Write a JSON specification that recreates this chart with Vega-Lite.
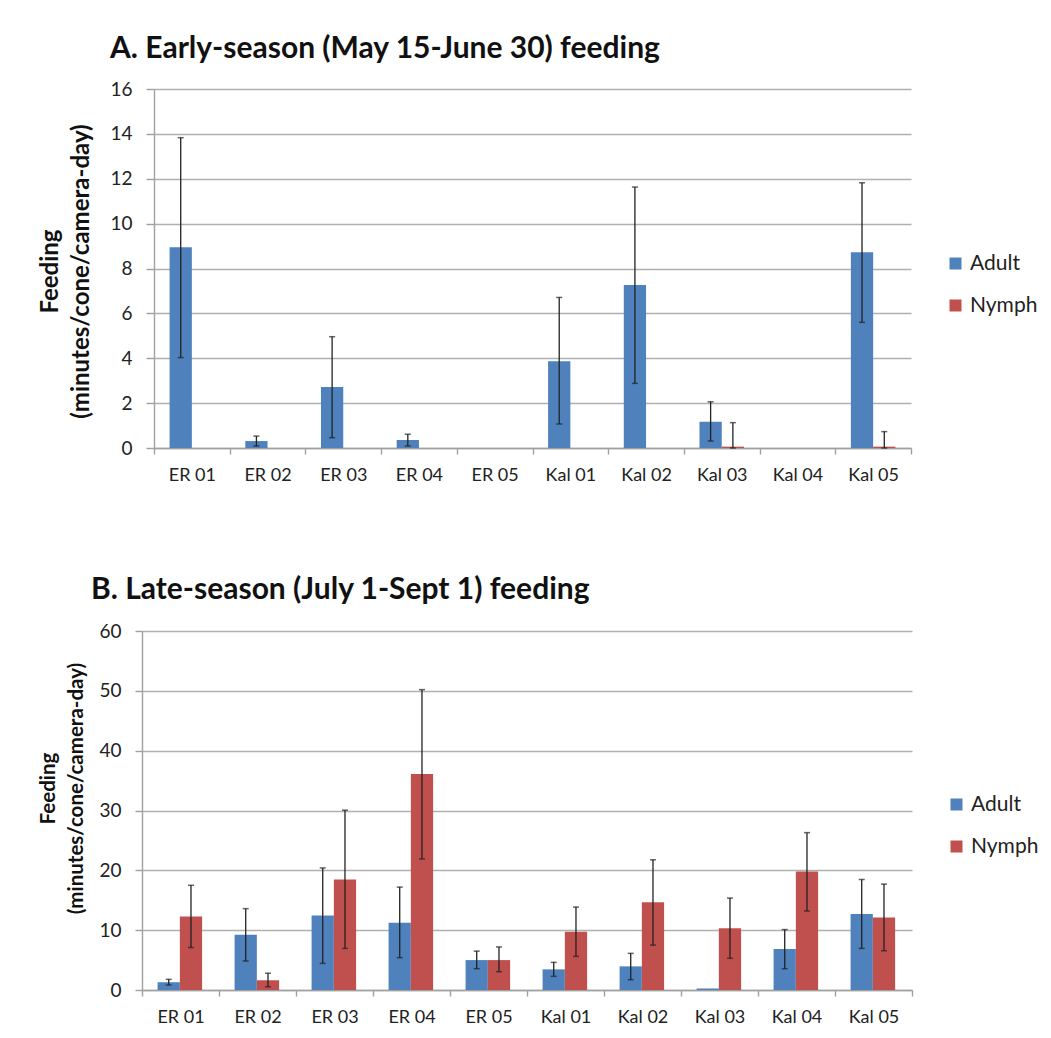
{
  "$schema": "https://vega.github.io/schema/vega-lite/v6.json",
  "background": "white",
  "padding": {"top": 34, "left": 37, "right": 5, "bottom": 5},
  "datasets": {
    "early": [
      {"site": "ER 01", "stage": "Adult", "value": 8.95, "lo": 4.03, "hi": 13.83},
      {"site": "ER 01", "stage": "Nymph", "value": 0},
      {"site": "ER 02", "stage": "Adult", "value": 0.31, "lo": 0.09, "hi": 0.53},
      {"site": "ER 02", "stage": "Nymph", "value": 0},
      {"site": "ER 03", "stage": "Adult", "value": 2.72, "lo": 0.46, "hi": 4.96},
      {"site": "ER 03", "stage": "Nymph", "value": 0},
      {"site": "ER 04", "stage": "Adult", "value": 0.36, "lo": 0.09, "hi": 0.61},
      {"site": "ER 04", "stage": "Nymph", "value": 0},
      {"site": "ER 05", "stage": "Adult", "value": 0},
      {"site": "ER 05", "stage": "Nymph", "value": 0},
      {"site": "Kal 01", "stage": "Adult", "value": 3.87, "lo": 1.07, "hi": 6.71},
      {"site": "Kal 01", "stage": "Nymph", "value": 0},
      {"site": "Kal 02", "stage": "Adult", "value": 7.27, "lo": 2.88, "hi": 11.63},
      {"site": "Kal 02", "stage": "Nymph", "value": 0},
      {"site": "Kal 03", "stage": "Adult", "value": 1.17, "lo": 0.31, "hi": 2.06},
      {"site": "Kal 03", "stage": "Nymph", "value": 0.06, "lo": 0, "hi": 1.13},
      {"site": "Kal 04", "stage": "Adult", "value": 0},
      {"site": "Kal 04", "stage": "Nymph", "value": 0},
      {"site": "Kal 05", "stage": "Adult", "value": 8.72, "lo": 5.6, "hi": 11.82},
      {"site": "Kal 05", "stage": "Nymph", "value": 0.06, "lo": 0, "hi": 0.73}
    ],
    "late": [
      {"site": "ER 01", "stage": "Adult", "value": 1.3, "lo": 0.83, "hi": 1.78},
      {"site": "ER 01", "stage": "Nymph", "value": 12.3, "lo": 7.1, "hi": 17.5},
      {"site": "ER 02", "stage": "Adult", "value": 9.23, "lo": 4.84, "hi": 13.6},
      {"site": "ER 02", "stage": "Nymph", "value": 1.65, "lo": 0.56, "hi": 2.78},
      {"site": "ER 03", "stage": "Adult", "value": 12.45, "lo": 4.45, "hi": 20.4},
      {"site": "ER 03", "stage": "Nymph", "value": 18.45, "lo": 6.95, "hi": 30.05},
      {"site": "ER 04", "stage": "Adult", "value": 11.25, "lo": 5.4, "hi": 17.2},
      {"site": "ER 04", "stage": "Nymph", "value": 36.1, "lo": 21.9, "hi": 50.2},
      {"site": "ER 05", "stage": "Adult", "value": 5.0, "lo": 3.56, "hi": 6.5},
      {"site": "ER 05", "stage": "Nymph", "value": 5.0, "lo": 3.06, "hi": 7.2},
      {"site": "Kal 01", "stage": "Adult", "value": 3.45, "lo": 2.28, "hi": 4.62},
      {"site": "Kal 01", "stage": "Nymph", "value": 9.74, "lo": 5.62, "hi": 13.86},
      {"site": "Kal 02", "stage": "Adult", "value": 3.95, "lo": 1.72, "hi": 6.12},
      {"site": "Kal 02", "stage": "Nymph", "value": 14.65, "lo": 7.5, "hi": 21.76},
      {"site": "Kal 03", "stage": "Adult", "value": 0.25},
      {"site": "Kal 03", "stage": "Nymph", "value": 10.3, "lo": 5.3, "hi": 15.36},
      {"site": "Kal 04", "stage": "Adult", "value": 6.85, "lo": 3.56, "hi": 10.1},
      {"site": "Kal 04", "stage": "Nymph", "value": 19.8, "lo": 13.2, "hi": 26.3},
      {"site": "Kal 05", "stage": "Adult", "value": 12.7, "lo": 6.95, "hi": 18.47},
      {"site": "Kal 05", "stage": "Nymph", "value": 12.13, "lo": 6.56, "hi": 17.7}
    ],
    "blank": [{"t": ""}]
  },
  "spacing": 91,
  "resolve": {"scale": {"y": "independent", "x": "independent", "color": "independent"}, "legend": {"color": "independent"}},
  "vconcat": [
    {
      "spacing": 0,
      "resolve": {"scale": {"y": "independent", "x": "independent", "color": "independent"}, "legend": {"color": "independent"}},
      "hconcat": [
        {
          "width": 1, "height": 1,
          "data": {"name": "blank"},
          "mark": {"type": "text", "text": ""},
          "encoding": {}
        },
        {
          "width": 757,
          "height": 359,
          "data": {"name": "early"},
          "title": {"text": "A. Early-season (May 15-June 30) feeding", "frame": "group", "anchor": "start", "dx": -44, "fontSize": 30, "fontWeight": "bold", "offset": 16, "color": "#111"},
          "encoding": {
            "x": {"field": "site", "type": "nominal", "sort": null, "scale": {"paddingInner": 0, "paddingOuter": 0},
                  "axis": {"title": null, "labelAngle": 0, "tickBand": "extent", "tickSize": 6, "labelPadding": 12, "labelFontSize": 18, "grid": false}},
            "xOffset": {"field": "stage", "type": "nominal", "scale": {"domain": ["Adult", "Nymph"], "paddingInner": 0, "paddingOuter": 0.7}}
          },
          "layer": [
            {
              "mark": {"type": "bar"},
              "encoding": {
                "y": {"field": "value", "type": "quantitative", "scale": {"domain": [0, 16]},
                      "axis": {"values": [0, 2, 4, 6, 8, 10, 12, 14, 16], "title": ["Feeding", "(minutes/cone/camera-day)"], "titleFontSize": 24, "titleLineHeight": 31, "titlePadding": 16, "titleY": 182, "labelFontSize": 19, "labelPadding": 14, "tickSize": 8}},
                "color": {"field": "stage", "type": "nominal", "scale": {"domain": ["Adult", "Nymph"], "range": ["#4F81BD", "#C0504D"]},
                          "legend": {"title": null, "orient": "none", "legendX": 791, "legendY": 164, "symbolType": "square", "symbolSize": 144, "labelFontSize": 21, "rowPadding": 20, "symbolStrokeWidth": 0, "labelOffset": 4}}
              }
            },
            {
              "transform": [{"filter": "datum.hi != null"}],
              "mark": {"type": "rule", "color": "#222", "strokeWidth": 1.3},
              "encoding": {"y": {"field": "lo", "type": "quantitative"}, "y2": {"field": "hi"}}
            },
            {
              "transform": [{"filter": "datum.hi != null"}],
              "mark": {"type": "tick", "color": "#222", "thickness": 1.5, "size": 6, "orient": "horizontal"},
              "encoding": {"y": {"field": "hi", "type": "quantitative"}}
            },
            {
              "transform": [{"filter": "datum.hi != null"}],
              "mark": {"type": "tick", "color": "#222", "thickness": 1.5, "size": 6, "orient": "horizontal"},
              "encoding": {"y": {"field": "lo", "type": "quantitative"}}
            }
          ]
        }
      ]
    },
    {
      "spacing": 0,
      "resolve": {"scale": {"y": "independent", "x": "independent", "color": "independent"}, "legend": {"color": "independent"}},
      "hconcat": [
        {
          "width": 1, "height": 1,
          "data": {"name": "blank"},
          "mark": {"type": "text", "text": ""},
          "encoding": {}
        },
        {
          "width": 770,
          "height": 359,
          "data": {"name": "late"},
          "title": {"text": "B. Late-season (July 1-Sept 1) feeding", "frame": "group", "anchor": "start", "dx": -51, "fontSize": 30, "fontWeight": "bold", "offset": 17, "color": "#111"},
          "encoding": {
            "x": {"field": "site", "type": "nominal", "sort": null, "scale": {"paddingInner": 0, "paddingOuter": 0},
                  "axis": {"title": null, "labelAngle": 0, "tickBand": "extent", "tickSize": 6, "labelPadding": 12, "labelFontSize": 18, "grid": false}},
            "xOffset": {"field": "stage", "type": "nominal", "scale": {"domain": ["Adult", "Nymph"], "paddingInner": 0, "paddingOuter": 0.72}}
          },
          "layer": [
            {
              "mark": {"type": "bar"},
              "encoding": {
                "y": {"field": "value", "type": "quantitative", "scale": {"domain": [0, 60]},
                      "axis": {"values": [0, 10, 20, 30, 40, 50, 60], "title": ["Feeding", "(minutes/cone/camera-day)"], "titleFontSize": 20.5, "titleLineHeight": 28, "titlePadding": 12, "titleY": 157, "labelFontSize": 19, "labelPadding": 14, "tickSize": 7}},
                "color": {"field": "stage", "type": "nominal", "scale": {"domain": ["Adult", "Nymph"], "range": ["#4F81BD", "#C0504D"]},
                          "legend": {"title": null, "orient": "none", "legendX": 804, "legendY": 163, "symbolType": "square", "symbolSize": 144, "labelFontSize": 21, "rowPadding": 20, "symbolStrokeWidth": 0, "labelOffset": 4}}
              }
            },
            {
              "transform": [{"filter": "datum.hi != null"}],
              "mark": {"type": "rule", "color": "#222", "strokeWidth": 1.3},
              "encoding": {"y": {"field": "lo", "type": "quantitative"}, "y2": {"field": "hi"}}
            },
            {
              "transform": [{"filter": "datum.hi != null"}],
              "mark": {"type": "tick", "color": "#222", "thickness": 1.5, "size": 6, "orient": "horizontal"},
              "encoding": {"y": {"field": "hi", "type": "quantitative"}}
            },
            {
              "transform": [{"filter": "datum.hi != null"}],
              "mark": {"type": "tick", "color": "#222", "thickness": 1.5, "size": 6, "orient": "horizontal"},
              "encoding": {"y": {"field": "lo", "type": "quantitative"}}
            }
          ]
        }
      ]
    }
  ],
  "config": {
    "font": "Lato",
    "view": {"stroke": null},
    "axis": {"labelColor": "#222", "titleColor": "#111", "titleFontWeight": "bold", "gridColor": "#B0B0B0", "gridWidth": 1.6, "domainColor": "#A0A0A0", "domainWidth": 1.4, "tickColor": "#A0A0A0", "tickWidth": 1.4},
    "axisY": {"domain": true, "grid": true},
    "legend": {"labelColor": "#222"}
  }
}
